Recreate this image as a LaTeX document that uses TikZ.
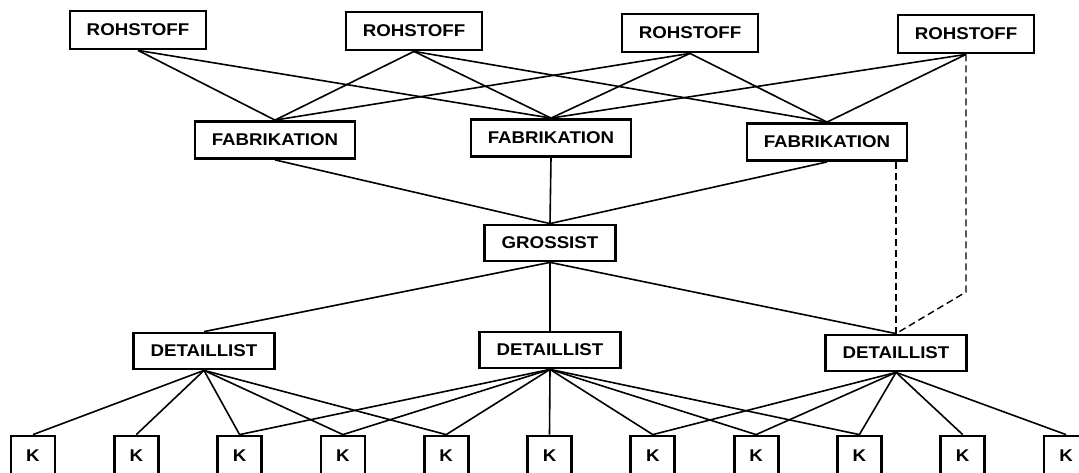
\documentclass[tikz,border=0pt]{standalone}
\usepackage{fontspec}
\newfontfamily\boxfont{Liberation Sans}[FakeStretch=1.1]

\begin{document}
\begin{tikzpicture}[x=1pt,y=-1pt,
    box/.style={draw,line width=2.8pt,inner sep=0pt,
      font=\boxfont\bfseries\fontsize{17}{20}\selectfont},
    kbox/.style={box,minimum width=44pt,minimum height=40pt},
    link/.style={line width=1.6pt},
    extra/.style={line width=1.4pt,dash pattern=on 7pt off 4pt}]
  \useasboundingbox (0,0) rectangle (1079,473);
  % Rohstoffe
  \node[box,minimum width=136pt,minimum height=38pt] (r1) at (138,30) {ROHSTOFF};
  \node[box,minimum width=136pt,minimum height=38pt] (r2) at (414,31) {ROHSTOFF};
  \node[box,minimum width=136pt,minimum height=38pt] (r3) at (690,33) {ROHSTOFF};
  \node[box,minimum width=136pt,minimum height=38pt] (r4) at (966,34) {ROHSTOFF};
  % Fabrikation
  \node[box,minimum width=160pt,minimum height=37pt] (f1) at (275,140) {FABRIKATION};
  \node[box,minimum width=160pt,minimum height=37pt] (f2) at (551,138) {FABRIKATION};
  \node[box,minimum width=160pt,minimum height=37pt] (f3) at (827,142) {FABRIKATION};
  % Grossist
  \node[box,minimum width=131pt,minimum height=36pt] (g) at (550,243) {GROSSIST};
  % Detaillisten
  \node[box,minimum width=141pt,minimum height=36pt] (d1) at (204,351) {DETAILLIST};
  \node[box,minimum width=141pt,minimum height=36pt] (d2) at (550,350) {DETAILLIST};
  \node[box,minimum width=141pt,minimum height=36pt] (d3) at (896,353) {DETAILLIST};
  % Kunden
  \foreach \i in {1,...,11}
    \node[kbox] (k\i) at ({33+(\i-1)*103.3},456) {K};

  \foreach \a/\b in {r1/f1,r1/f2,r2/f1,r2/f2,r2/f3,r3/f1,r3/f2,r3/f3,r4/f2,r4/f3}
    \draw[link] (\a.south) -- (\b.north);
  \foreach \a in {f1,f2,f3}
    \draw[link] (\a.south) -- (g.north);
  \foreach \b in {d1,d2,d3}
    \draw[link] (g.south) -- (\b.north);
  \foreach \i in {1,...,5}
    \draw[link] (d1.south) -- (k\i.north);
  \foreach \i in {3,...,9}
    \draw[link] (d2.south) -- (k\i.north);
  \foreach \i in {7,...,11}
    \draw[link] (d3.south) -- (k\i.north);

  % direkte Wege
  \coordinate (knick) at (r4.south |- 0,292);
  \draw[extra] (r4.south) -- (knick) -- (d3.north);
  \draw[extra] (f3.south -| d3.north) -- (d3.north);
\end{tikzpicture}
\end{document}
